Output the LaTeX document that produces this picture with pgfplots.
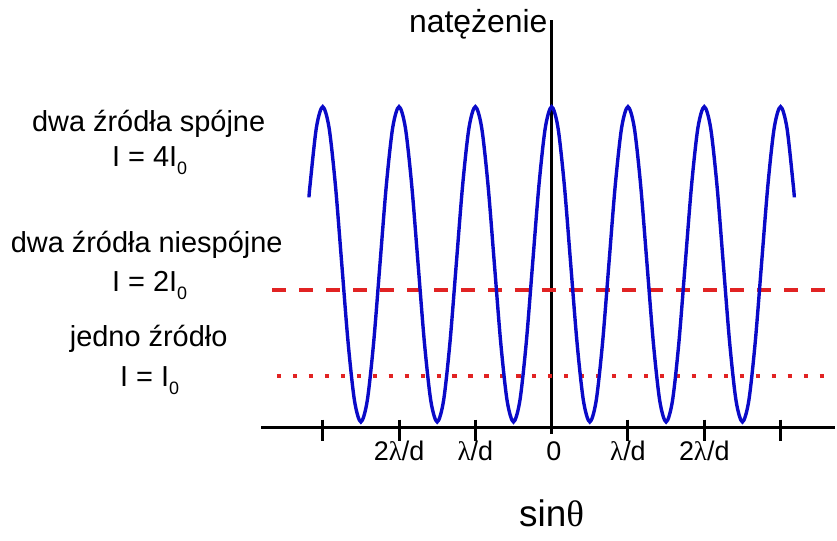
\documentclass[border=0pt]{standalone}
\usepackage{pgfplots}
\pgfplotsset{compat=1.18}
\usepackage{fontspec}
\setmainfont{Liberation Sans}
\newfontfamily\grk{Liberation Serif}
\newcommand\sub[1]{\raisebox{-0.55ex}{\fontsize{18}{20}\selectfont #1}}

\definecolor{curveblue}{RGB}{10,10,200}
\definecolor{linered}{RGB}{225,35,35}

% intensity I/I0 for two coherent sources, x in units of lambda/d
\pgfplotstableread{
x y
-3.18 2.85
-3.1667 3
-3.0833 3.732
-3 4
-2.9167 3.732
-2.8333 3
-2.75 2
-2.6667 1
-2.5833 0.268
-2.5 0
-2.4167 0.268
-2.3333 1
-2.25 2
-2.1667 3
-2.0833 3.732
-2 4
-1.9167 3.732
-1.8333 3
-1.75 2
-1.6667 1
-1.5833 0.268
-1.5 0
-1.4167 0.268
-1.3333 1
-1.25 2
-1.1667 3
-1.0833 3.732
-1 4
-0.9167 3.732
-0.8333 3
-0.75 2
-0.6667 1
-0.5833 0.268
-0.5 0
-0.4167 0.268
-0.3333 1
-0.25 2
-0.1667 3
-0.0833 3.732
0 4
0.0833 3.732
0.1667 3
0.25 2
0.3333 1
0.4167 0.268
0.5 0
0.5833 0.268
0.6667 1
0.75 2
0.8333 3
0.9167 3.732
1 4
1.0833 3.732
1.1667 3
1.25 2
1.3333 1
1.4167 0.268
1.5 0
1.5833 0.268
1.6667 1
1.75 2
1.8333 3
1.9167 3.732
2 4
2.0833 3.732
2.1667 3
2.25 2
2.3333 1
2.4167 0.268
2.5 0
2.5833 0.268
2.6667 1
2.75 2
2.8333 3
2.9167 3.732
3 4
3.0833 3.732
3.1667 3
3.18 2.85
}\coherent

\begin{document}
\begin{tikzpicture}[every node/.style={inner sep=0pt}]
  \begin{axis}[
    width=837pt, height=542pt,
    scale only axis,
    hide axis,
    clip=false,
    xmin=-7.229, xmax=3.712,
    ymin=-1.506, ymax=5.354,
    ]
    \path (rel axis cs:0,0) rectangle (rel axis cs:1,1);

    %% axes
    \draw[line width=3pt] (axis cs:-3.804,-0.076) -- (axis cs:3.712,-0.076);
    \draw[line width=3pt] (axis cs:0,-0.15) -- (axis cs:0,5.10);
    \pgfplotsinvokeforeach{-3,-2,-1,1,2,3}{
      \draw[line width=3pt] (axis cs:#1,0.03) -- (axis cs:#1,-0.24);
    }

    %% reference levels
    \addplot[linered, line width=3.7pt, dash pattern=on 14pt off 13pt]
      coordinates {(-3.66,1.67) (3.712,1.67)};
    \addplot[linered, line width=4.2pt, dash pattern=on 4.2pt off 11.8pt]
      coordinates {(-3.6,0.58) (3.712,0.58)};

    %% interference pattern
    \addplot[curveblue, line width=3.4pt, smooth] table[x=x,y=y] {\coherent};

    %% tick labels
    \node[font=\fontsize{27}{30}\selectfont, anchor=base] at (axis cs:-2,-0.494) {2{\grk λ}/d};
    \node[font=\fontsize{27}{30}\selectfont, anchor=base] at (axis cs:-1,-0.494) {{\grk λ}/d};
    \node[font=\fontsize{27}{30}\selectfont, anchor=base] at (axis cs:0.03,-0.494) {0};
    \node[font=\fontsize{27}{30}\selectfont, anchor=base] at (axis cs:1,-0.494) {{\grk λ}/d};
    \node[font=\fontsize{27}{30}\selectfont, anchor=base] at (axis cs:2,-0.494) {2{\grk λ}/d};

    %% axis titles
    \node[font=\fontsize{37}{40}\selectfont, anchor=base] at (axis cs:0,-1.33) {sin{\grk θ}};
    \node[font=\fontsize{32}{36}\selectfont, anchor=base east] at (axis cs:-0.052,4.937) {natężenie};

    %% left-hand descriptions
    \node[font=\fontsize{29}{32}\selectfont, anchor=base] at (axis cs:-5.281,3.684) {dwa źródła spójne};
    \node[font=\fontsize{29}{32}\selectfont, anchor=base] at (axis cs:-5.268,3.241) {I = 4I\sub{0}};
    \node[font=\fontsize{29}{32}\selectfont, anchor=base] at (axis cs:-5.307,2.152) {dwa źródła niespójne};
    \node[font=\fontsize{29}{32}\selectfont, anchor=base] at (axis cs:-5.268,1.658) {I = 2I\sub{0}};
    \node[font=\fontsize{29}{32}\selectfont, anchor=base] at (axis cs:-5.281,0.962) {jedno źródło};
    \node[font=\fontsize{29}{32}\selectfont, anchor=base] at (axis cs:-5.268,0.456) {I = I\sub{0}};
  \end{axis}
\end{tikzpicture}
\end{document}
